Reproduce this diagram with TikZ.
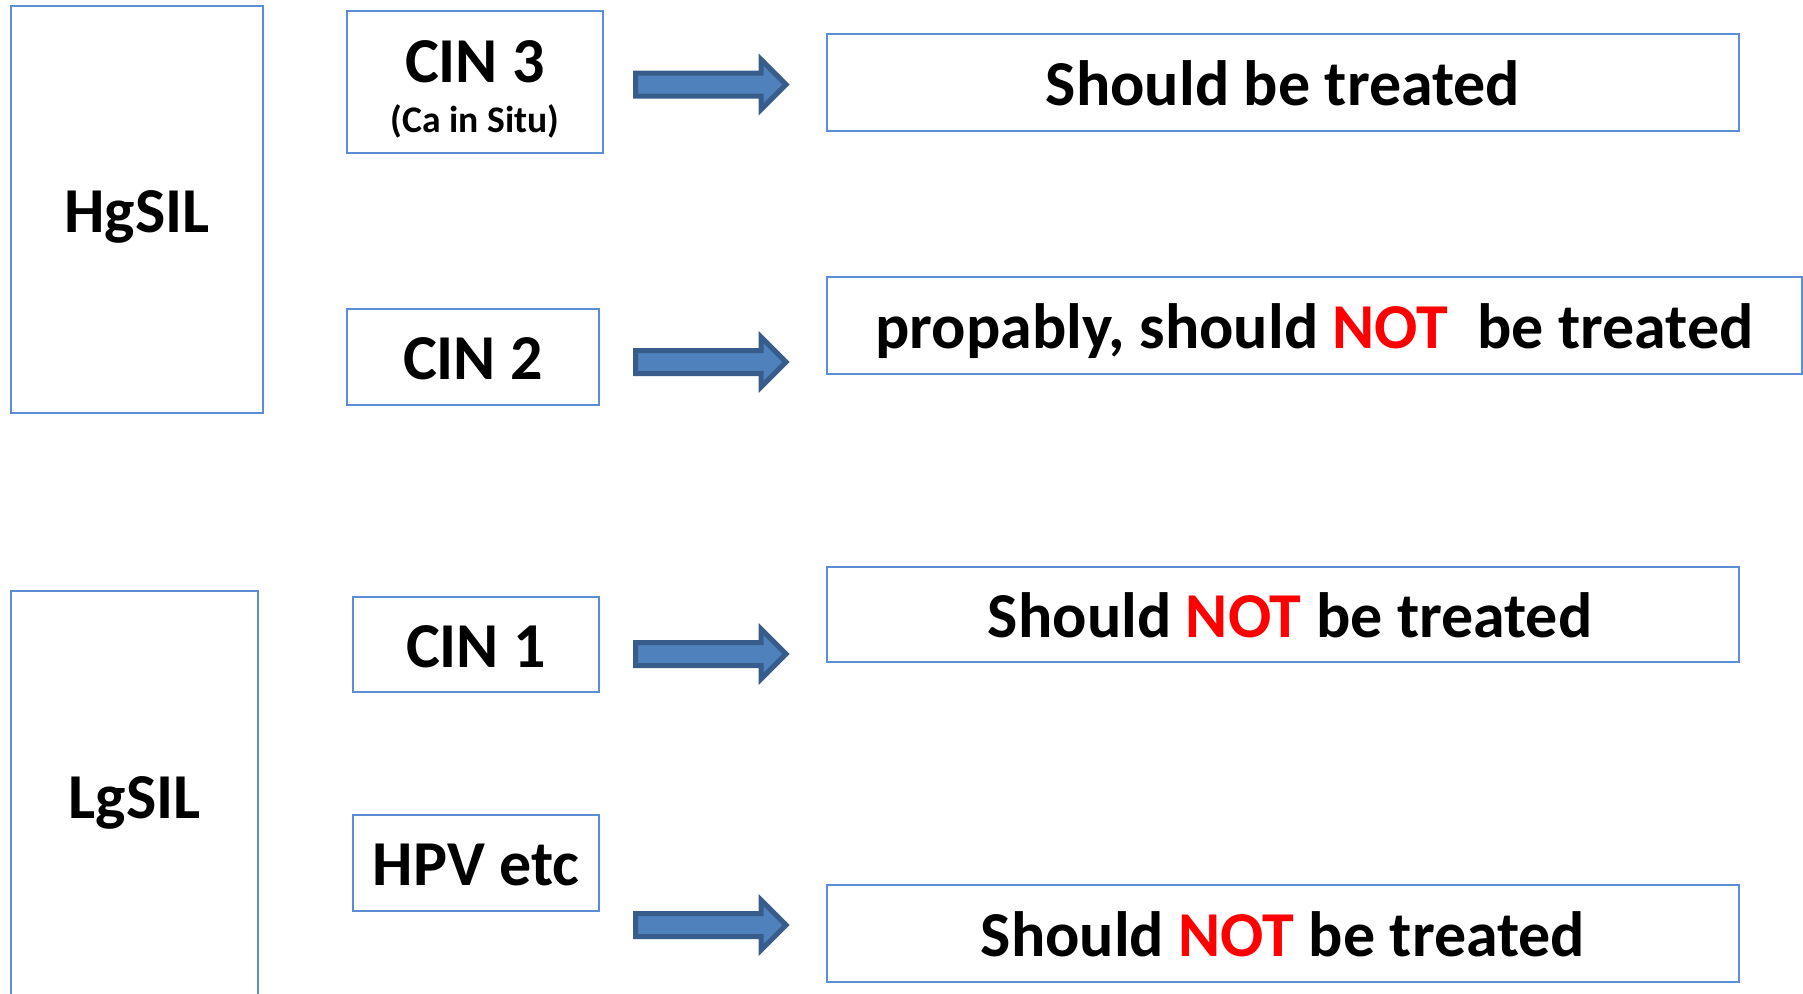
\documentclass[tikz,border=0pt]{standalone}
\usepackage{fontspec}
\setmainfont{Carlito}
\definecolor{boxblue}{RGB}{92,142,214}
\definecolor{arrowfill}{RGB}{79,129,189}
\definecolor{arrowedge}{RGB}{56,93,138}
\definecolor{notred}{RGB}{255,0,0}
\newcommand\Bfont{\fontsize{32}{38}\selectfont\bfseries}
\newcommand\Sfont{\fontsize{18.8}{22}\selectfont\bfseries}
\begin{document}
\begin{tikzpicture}[x=0.5pt,y=-0.5pt,
  box/.style 2 args={draw=boxblue, line width=1pt, inner sep=0pt,
    minimum width=#1*0.5pt, minimum height=#2*0.5pt,
    font=\Bfont, text height=22.5pt, text depth=0pt},
  txt/.style={inner sep=0pt, text height=21pt, text depth=0pt},
  stxt/.style={inner sep=0pt, font=\Sfont, text height=12pt, text depth=0pt},
  barrow/.pic={\path[fill=arrowfill, draw=arrowedge, line width=2.5pt, line join=miter]
    (2.5,-11.5) -- (128,-11.5) -- (128,-25) -- (153,0) -- (128,25) -- (128,11.5) -- (2.5,11.5) -- cycle;}
]
\useasboundingbox (0,0) rectangle (1803,993);

% left group boxes
\node[box={252}{407}] (hg) at (137,209.5) {HgSIL};
\node[box={247}{410}] (lg) at (134.5,796) {LgSIL};

% middle boxes
\node[box={256}{142}] (cin3) at (475,82) {};
\node[txt, font=\Bfont] (cin3t) at (475,61) {CIN 3};
\node[stxt] (cin3s) at (475,120) {(Ca in Situ)};
\node[box={252}{96}] (cin2) at (473,357) {CIN 2};
\node[box={246}{95}] (cin1) at (476,644.5) {CIN 1};
\node[box={246}{96}] (hpv) at (476,863) {HPV etc};

% right boxes
\node[box={912}{97}] (r1) at (1283,82.5) {Should be treated};
\node[box={975}{97}] (r2) at (1314.5,325.5) {propably, should \textcolor{notred}{NOT}~ be treated};
\node[box={912}{95}] (r3) at (1283,614.5) {\hspace*{0.226em}Should \textcolor{notred}{NOT} be treated};
\node[box={912}{97}] (r4) at (1283,933.5) {Should \textcolor{notred}{NOT} be treated};

% block arrows
\pic (a1) at (633,84.5) {barrow};
\pic (a2) at (633,362) {barrow};
\pic (a3) at (633,654) {barrow};
\pic (a4) at (633,925) {barrow};
\end{tikzpicture}
\end{document}
